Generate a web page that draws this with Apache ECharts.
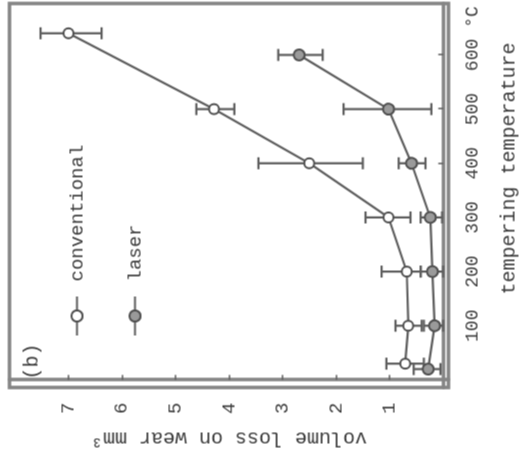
<!DOCTYPE html>
<html>
<head>
<meta charset="utf-8">
<script src="https://cdn.jsdelivr.net/npm/echarts@6/dist/echarts.min.js"></script>
<style>
  html, body { margin: 0; padding: 0; width: 524px; height: 473px; overflow: hidden; background: #ffffff; }
  #chart { position: absolute; width: 473px; height: 524px; left: 25.5px; top: -25.5px; transform: rotate(-90deg); transform-origin: 50% 50%; }
</style>
</head>
<body>
<div id="chart"></div>
<script>
// ---- data ----
const convTemp = [30, 100, 200, 300, 400, 500, 640];
const convLoss = [0.71, 0.65, 0.68, 1.02, 2.50, 4.28, 7.00];
const convLow  = [0.36, 0.40, 0.42, 0.61, 1.50, 3.90, 6.38];
const convHigh = [1.06, 0.89, 1.15, 1.45, 3.45, 4.61, 7.52];

const laserTemp = [20, 100, 200, 300, 400, 500, 600];
const laserLoss = [0.28, 0.16, 0.20, 0.24, 0.59, 1.02, 2.69];
const laserLow  = [0.05, 0.00, 0.00, 0.02, 0.33, 0.22, 2.25];
const laserHigh = [0.55, 0.36, 0.42, 0.42, 0.83, 1.86, 3.08];

const tempTicks = [100, 200, 300, 400, 500, 600];
const unitLabelPos = 670;
const lossTicks = [1, 2, 3, 4, 5, 6, 7];

const FONT = 'Liberation Mono';
const INK = '#3c3c3c';
const LINE = '#5e5e5e';
const FRAME = '#858585';

function pairs(xs, ys) { return xs.map((x, i) => [x, ys[i]]); }
function triples(xs, lo, hi) { return xs.map((x, i) => [x, lo[i], hi[i]]); }

function renderErr(params, api) {
  const x = api.value(0), lo = api.value(1), hi = api.value(2);
  const p1 = api.coord([x, lo]);
  const p2 = api.coord([x, hi]);
  const cap = 6;
  const st = { stroke: LINE, lineWidth: 2.2 };
  return {
    type: 'group',
    children: [
      { type: 'line', shape: { x1: p1[0], y1: p1[1], x2: p2[0], y2: p2[1] }, style: st },
      { type: 'line', shape: { x1: p1[0] - cap, y1: p1[1], x2: p1[0] + cap, y2: p1[1] }, style: st },
      { type: 'line', shape: { x1: p2[0] - cap, y1: p2[1], x2: p2[0] + cap, y2: p2[1] }, style: st }
    ]
  };
}

const chart = echarts.init(document.getElementById('chart'), null, { renderer: 'canvas' });
chart.setOption({
  animation: false,
  backgroundColor: '#ffffff',
  textStyle: { fontFamily: FONT, color: INK },
  grid: { left: 86, right: 3, top: 9, bottom: 74, show: true, borderColor: FRAME, borderWidth: 3.5, containLabel: false },
  legend: {
    orient: 'vertical',
    left: 137, top: 67, padding: 0,
    itemWidth: 39, itemHeight: 14, itemGap: 39,
    data: ['conventional', 'laser'],
    textStyle: { fontFamily: FONT, fontSize: 19, color: INK, padding: [0, 0, 0, 10] }
  },
  graphic: [
    { type: 'text', left: 94, top: 22, style: { text: '(b)', font: '20px "Liberation Mono"', fill: INK } }
  ],
  xAxis: {
    type: 'value', min: -14, max: 695,
    name: 'tempering temperature', nameLocation: 'middle', nameGap: 51,
    nameTextStyle: { fontFamily: FONT, fontSize: 20, color: INK, padding: [0, 0, 0, 54] },
    axisLine: { show: true, lineStyle: { color: FRAME, width: 3.5 } },
    axisTick: { show: true, inside: true, length: 5, customValues: tempTicks, lineStyle: { color: LINE, width: 1.5 } },
    axisLabel: {
      customValues: tempTicks.concat([unitLabelPos]), margin: 15, fontSize: 18, fontFamily: FONT, color: INK,
      formatter: v => (v === unitLabelPos ? '°C' : String(v))
    },
    splitLine: { show: false }
  },
  yAxis: {
    type: 'value', min: -0.1, max: 8.1,
    name: 'volume loss on wear mm³', nameLocation: 'middle', nameGap: 40,
    nameTextStyle: { fontFamily: FONT, fontSize: 20, color: INK },
    axisLine: { show: true, lineStyle: { color: FRAME, width: 3.5 } },
    axisTick: { show: true, inside: true, length: 5, customValues: lossTicks, lineStyle: { color: LINE, width: 1.5 } },
    axisLabel: { customValues: lossTicks, margin: 15, fontSize: 19, fontFamily: FONT, color: INK },
    splitLine: { show: false }
  },
  series: [
    { name: 'convErr', type: 'custom', renderItem: renderErr, encode: { x: 0, y: [1, 2] },
      data: triples(convTemp, convLow, convHigh), z: 1, silent: true },
    { name: 'laserErr', type: 'custom', renderItem: renderErr, encode: { x: 0, y: [1, 2] },
      data: triples(laserTemp, laserLow, laserHigh), z: 1, silent: true },
    { name: 'conventional', type: 'line', data: pairs(convTemp, convLoss), z: 3,
      symbol: 'circle', symbolSize: 10,
      lineStyle: { color: LINE, width: 2.2 },
      itemStyle: { color: '#ffffff', borderColor: '#4f4f4f', borderWidth: 2 } },
    { name: 'laser', type: 'line', data: pairs(laserTemp, laserLoss), z: 3,
      symbol: 'circle', symbolSize: 11,
      lineStyle: { color: LINE, width: 2.2 },
      itemStyle: { color: '#9a9a9a', borderColor: '#4f4f4f', borderWidth: 2 } }
  ]
});
</script>
</body>
</html>
